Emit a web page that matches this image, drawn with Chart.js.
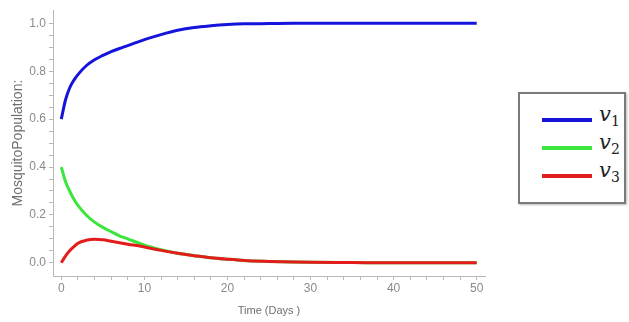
<!DOCTYPE html>
<html>
<head>
<meta charset="utf-8">
<script src="https://cdn.jsdelivr.net/npm/chart.js@4"></script>
<style>
  body { margin: 0; background: #fff; }
  #wrap { position: relative; width: 629px; height: 322px; }
  #chart-box { position: absolute; left: 0; top: 0; width: 500px; height: 322px; }
  #legend {
    position: absolute; left: 518px; top: 92px; width: 104px; height: 108px;
    border: 2px solid #7a7a7a; box-shadow: 1px 1px 2px #bbb; background: #fff;
    padding: 0; box-sizing: content-box;
  }
  .row { position: absolute; left: 22px; height: 28px; }
  .swatch { position: absolute; left: 0; width: 50px; height: 4px; }
  .lbl {
    position: absolute; left: 57px; font-family: "DejaVu Serif", serif; font-style: italic;
    font-size: 21px; color: #222; white-space: nowrap;
  }
  .lbl sub { font-style: normal; font-size: 14px; vertical-align: -5px; }
</style>
</head>
<body>
<div id="wrap">
  <div id="chart-box"><canvas id="c" width="500" height="322"></canvas></div>
  <div id="legend"></div>
</div>
<script>
// time points (days) and the three mosquito compartments
const days = [0, 0.5, 1, 1.5, 2, 3, 4, 5, 6, 7, 8, 10, 12, 14, 16, 18, 20, 22, 25, 28, 30, 35, 40, 45, 50];
const v1 = [0.6, 0.68, 0.73, 0.762, 0.786, 0.823, 0.848, 0.866, 0.882, 0.895, 0.907, 0.932, 0.953, 0.971, 0.983, 0.99, 0.995, 0.998, 0.999, 1, 1, 1, 1, 1, 1];
const v2 = [0.4, 0.34, 0.3, 0.267, 0.24, 0.2, 0.17, 0.148, 0.13, 0.113, 0.1, 0.074, 0.055, 0.04, 0.03, 0.021, 0.015, 0.01, 0.006, 0.003, 0.002, 0.001, 0, 0, 0];
const v3 = [0, 0.028, 0.05, 0.067, 0.082, 0.094, 0.098, 0.096, 0.09, 0.084, 0.078, 0.066, 0.052, 0.04, 0.03, 0.021, 0.015, 0.01, 0.006, 0.003, 0.002, 0.001, 0, 0, 0];

const seriesNames = ['1', '2', '3'];   // subscripts of v
const seriesColors = ['#1414dc', '#3ce63c', '#e41b1b'];
const seriesData = [v1, v2, v3];

const xTicks = [0, 10, 20, 30, 40, 50];
const yTicks = [0.0, 0.2, 0.4, 0.6, 0.8, 1.0];

function pts(arr) {
  return days.map((d, i) => ({ x: d, y: arr[i] }));
}

const datasets = seriesData.map((arr, i) => ({
  label: 'v' + seriesNames[i],
  data: pts(arr),
  borderColor: seriesColors[i],
  borderWidth: 3,
  pointRadius: 0,
  fill: false,
  cubicInterpolationMode: 'monotone',
  order: 2 - i   // red on top, like the original
}));

const axisGray = '#b8b8b8';
const labelGray = '#8a8a8a';

new Chart(document.getElementById('c').getContext('2d'), {
  type: 'line',
  data: { datasets: datasets },
  options: {
    responsive: false,
    animation: false,
    layout: { padding: { top: 8, right: 15, left: 0, bottom: 0 } },
    plugins: { legend: { display: false }, tooltip: { enabled: false } },
    scales: {
      x: {
        type: 'linear',
        min: -1, max: 51,
        afterFit: s => { s.height = 46; },
        afterBuildTicks: s => {
          s.ticks = [];
          for (let v = 0; v <= 50; v += 2) s.ticks.push({ value: v });
        },
        ticks: {
          autoSkip: false,
          color: labelGray,
          font: { family: 'Liberation Sans', size: 12 },
          padding: 1,
          maxRotation: 0,
          callback: v => xTicks.includes(v) ? String(v) : ''
        },
        grid: { drawOnChartArea: false, tickLength: 4, color: axisGray },
        border: { color: axisGray, width: 1 },
        title: {
          display: true, text: 'Time (Days )', color: '#6e6e6e',
          font: { family: 'Liberation Sans', size: 11 }, padding: { top: 2 }
        }
      },
      y: {
        min: -0.055, max: 1.055,
        afterFit: s => { s.width = 53; },
        afterBuildTicks: s => {
          s.ticks = [];
          for (let k = 0; k <= 20; k++) s.ticks.push({ value: k * 0.05 });
        },
        ticks: {
          autoSkip: false,
          color: labelGray,
          font: { family: 'Liberation Sans', size: 12 },
          padding: 3,
          callback: v => {
            const hit = yTicks.find(t => Math.abs(t - v) < 1e-6);
            return hit === undefined ? '' : hit.toFixed(1);
          }
        },
        grid: { drawOnChartArea: false, tickLength: 4, color: axisGray },
        border: { color: axisGray, width: 1 },
        title: {
          display: true, text: 'MosquitoPopulation:', color: '#6e6e6e',
          font: { family: 'Liberation Sans', size: 14 }, padding: { bottom: 0, top: 10 }
        }
      }
    }
  }
});

// legend in html so the subscripts look right
const legend = document.getElementById('legend');
seriesNames.forEach((n, i) => {
  const row = document.createElement('div');
  row.className = 'row';
  row.style.top = (12 + i * 28) + 'px';
  row.innerHTML = '<div class="swatch" style="top:12px;background:' + seriesColors[i] + '"></div>' +
    '<div class="lbl" style="top:-4px">v<sub>' + n + '</sub></div>';
  legend.appendChild(row);
});
</script>
</body>
</html>
